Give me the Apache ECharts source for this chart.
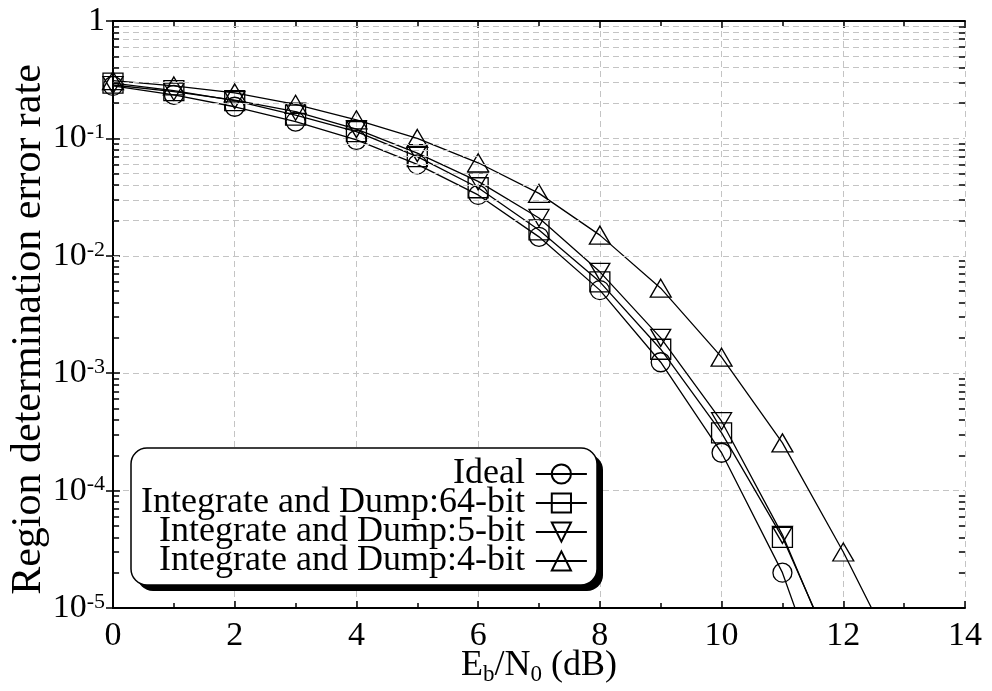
<!DOCTYPE html>
<html>
<head>
<meta charset="utf-8">
<script src="https://cdn.jsdelivr.net/npm/echarts@6/dist/echarts.min.js"></script>
<style>
  html, body { margin: 0; padding: 0; background: #fff; }
  #chart { width: 992px; height: 691px; }
</style>
</head>
<body>
<div id="chart"></div>
<script>
  // Eb/N0 (dB) sample points
  const ebn0 = [0, 1, 2, 3, 4, 5, 6, 7, 8, 9, 10, 11, 12, 13]
  // region determination error rate
  const ideal = [0.28, 0.235, 0.186, 0.139, 0.097, 0.06, 0.033, 0.0145, 0.0051, 0.00124, 0.00021, 0.00002, 7e-7]
  const bit64 = [0.296, 0.255, 0.21, 0.158, 0.114, 0.07, 0.038, 0.0166, 0.006, 0.0016, 0.00031, 0.00004, 2.7e-6]
  const bit5 = [0.285, 0.25, 0.212, 0.169, 0.12, 0.075, 0.043, 0.021, 0.0073, 0.002, 0.00039, 0.000042, 2.5e-6]
  const bit4 = [0.31, 0.28, 0.244, 0.195, 0.144, 0.1, 0.062, 0.034, 0.015, 0.0053, 0.00137, 0.000255, 0.00003, 2.8e-6]
  const seriesNames = ['Ideal', 'Integrate and Dump:64-bit', 'Integrate and Dump:5-bit', 'Integrate and Dump:4-bit']

  // minor log positions 2..9 x 10^n
  const decades = [-5, -4, -3, -2, -1]
  const minorVals = []
  decades.forEach(d => {
    for (let m = 2; m <= 9; m++) minorVals.push(+(m * Math.pow(10, d)).toPrecision(3))
  })

  const FONT = 'Liberation Serif'
  const gridDash = { color: '#c4c4c4', type: [6, 4], width: 1 }

  const pairs = (vals) => vals.map((v, i) => [ebn0[i], v])

  const lineSeries = (name, vals, symbol, size) => ({
    name: name,
    type: 'line',
    data: pairs(vals),
    symbol: symbol,
    symbolSize: size,
    showAllSymbol: true,
    clip: true,
    lineStyle: { color: '#000', width: 1.3 },
    itemStyle: { color: 'rgba(0,0,0,0)', borderColor: '#000', borderWidth: 1.3 },
    emphasis: { disabled: true },
    z: 3
  })

  const tickStyle = { color: '#000', type: 'solid', width: 1.5 }
  const s1 = lineSeries(seriesNames[0], ideal, 'circle', 19)
  // minor grid lines and minor ticks on both sides
  s1.markLine = {
    silent: true,
    symbol: 'none',
    label: { show: false },
    animation: false,
    lineStyle: gridDash,
    data: minorVals.map(v => ({ yAxis: v }))
      .concat(minorVals.map(v => [{ coord: [0, v], lineStyle: tickStyle }, { coord: [0.1, v] }]))
      .concat(minorVals.map(v => [{ coord: [13.9, v], lineStyle: tickStyle }, { coord: [14, v] }]))
  }

  const option = {
    animation: false,
    backgroundColor: '#fff',
    textStyle: { fontFamily: FONT, color: '#000' },
    grid: { left: 113, right: 27, top: 21, bottom: 83, containLabel: false, outerBoundsMode: 'none' },
    // legend box with its hard shadow
    graphic: [
      {
        type: 'rect', z: 20, silent: true,
        shape: { x: 137, y: 454, width: 466, height: 137, r: 16 },
        style: { fill: '#000' }
      },
      {
        type: 'rect', z: 21, silent: true,
        shape: { x: 131, y: 448, width: 466, height: 137, r: 16 },
        style: { fill: '#fff', stroke: '#000', lineWidth: 1.5 }
      }
    ],
    legend: {
      z: 30,
      orient: 'vertical',
      align: 'right',
      left: 131,
      top: 448,
      padding: [8, 13, 6, 10],
      itemGap: -7,
      itemWidth: 51,
      itemHeight: 24,
      selectedMode: false,
      textStyle: { fontFamily: FONT, fontSize: 36, color: '#000', padding: [0, 6, 0, 0] },
      data: seriesNames
    },
    xAxis: [
      {
        type: 'value',
        min: 0,
        max: 14,
        interval: 2,
        name: '{n|E}{s|b}{n|/N}{s|0}{n| (dB)}',
        nameLocation: 'middle',
        nameGap: 38,
        nameMoveOverlap: false,
        nameTextStyle: {
          rich: {
            n: { fontFamily: FONT, fontSize: 36, color: '#000', lineHeight: 40 },
            s: { fontFamily: FONT, fontSize: 23, color: '#000', lineHeight: 20, verticalAlign: 'bottom' }
          }
        },
        axisLine: { show: true, lineStyle: { color: '#000', width: 2 } },
        axisTick: { show: true, inside: true, length: 7, lineStyle: { color: '#000', width: 1.5 } },
        minorTick: { show: true, splitNumber: 2, length: 5, lineStyle: { color: '#000', width: 1.5 } },
        axisLabel: { fontFamily: FONT, fontSize: 34, color: '#000', margin: 11 },
        splitLine: { show: true, lineStyle: gridDash }
      },
      {
        type: 'value',
        position: 'top',
        min: 0,
        max: 14,
        interval: 2,
        axisLine: { show: true, lineStyle: { color: '#000', width: 2 } },
        axisTick: { show: true, inside: true, length: 7, lineStyle: { color: '#000', width: 1.5 } },
        minorTick: { show: true, splitNumber: 2, length: 5, lineStyle: { color: '#000', width: 1.5 } },
        axisLabel: { show: false },
        splitLine: { show: false }
      }
    ],
    yAxis: [
      {
        type: 'log',
        logBase: 10,
        min: 1e-5,
        max: 1,
        name: 'Region determination error rate',
        nameLocation: 'middle',
        nameGap: 63,
        nameMoveOverlap: false,
        nameTextStyle: { fontFamily: FONT, fontSize: 42, color: '#000', padding: [0, 30, 0, 0] },
        axisLine: { show: true, lineStyle: { color: '#000', width: 2 } },
        axisTick: { show: true, inside: true, length: 7, lineStyle: { color: '#000', width: 1.5 } },
        axisLabel: {
          margin: 8,
          formatter: function (v) {
            if (v >= 1) return '{b|1}'
            const e = Math.round(Math.log10(v))
            return '{b|10}{e|' + e + '}'
          },
          rich: {
            b: { fontFamily: FONT, fontSize: 34, color: '#000', lineHeight: 34 },
            e: { fontFamily: FONT, fontSize: 22, color: '#000', lineHeight: 14, verticalAlign: 'top' }
          }
        },
        splitLine: { show: true, lineStyle: gridDash }
      },
      {
        type: 'log',
        logBase: 10,
        min: 1e-5,
        max: 1,
        position: 'right',
        axisLine: { show: true, lineStyle: { color: '#000', width: 2 } },
        axisTick: { show: true, inside: true, length: 7, lineStyle: { color: '#000', width: 1.5 } },
        axisLabel: { show: false },
        splitLine: { show: false }
      }
    ],
    series: [
      s1,
      lineSeries(seriesNames[1], bit64, 'rect', 20),
      lineSeries(seriesNames[2], bit5, 'path://M0,0 L20,0 L10,17 Z', [20, 17]),
      lineSeries(seriesNames[3], bit4, 'triangle', [21, 18])
    ]
  }

  const chart = echarts.init(document.getElementById('chart'))
  chart.setOption(option)
  window.onresize = () => {
    chart.resize()
  }
</script>
</body>
</html>
